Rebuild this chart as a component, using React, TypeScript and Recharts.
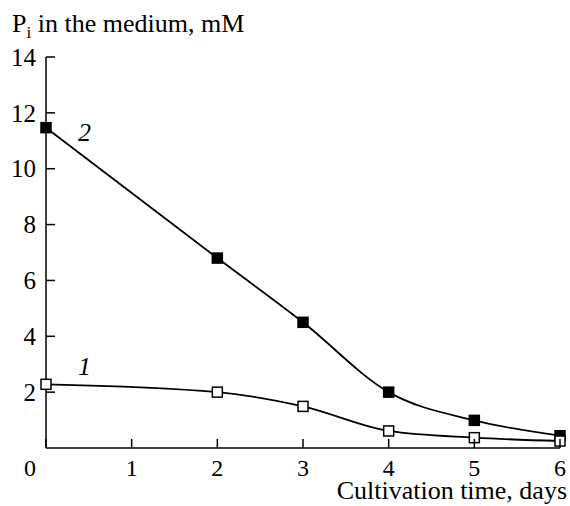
import React from "react";
import { LineChart, Line, XAxis, YAxis } from "recharts";

// days of cultivation
const days = [0, 2, 3, 4, 5, 6];
// curve 1 (open squares) and curve 2 (filled squares), mM
const curve1 = [2.28, 2.0, 1.49, 0.61, 0.37, 0.25];
const curve2 = [11.47, 6.8, 4.5, 2.0, 0.99, 0.44];

const xTicks = [0, 1, 2, 3, 4, 5, 6];
const yTicks = [2, 4, 6, 8, 10, 12, 14];

const FONT = "'Liberation Serif', 'Times New Roman', serif";

const data = days.map((d, i) => ({ day: d, c1: curve1[i], c2: curve2[i] }));

const XTick = ({ x, y, payload }: any) => {
  const shift = payload.value === 0 ? -16 : 0;
  return (
    <g>
      <line x1={x} y1={y} x2={x} y2={y - 9} stroke="#000" strokeWidth={1.5} />
      <text x={x + shift} y={y + 28} textAnchor="middle" fontSize={24} fontFamily={FONT} fill="#000">
        {payload.value}
      </text>
    </g>
  );
};

const YTick = ({ x, y, payload }: any) => (
  <g>
    <line x1={x} y1={y} x2={x + 9} y2={y} stroke="#000" strokeWidth={1.5} />
    <text x={x - 10} y={y} dy="0.35em" textAnchor="end" fontSize={25} fontFamily={FONT} fill="#000">
      {payload.value}
    </text>
  </g>
);

const squareDot = (fill: string) => (props: any) => {
  const { cx, cy, index } = props;
  return (
    <rect
      key={`sq-${fill}-${index}`}
      x={cx - 5}
      y={cy - 5}
      width={10}
      height={10}
      fill={fill}
      stroke="#000"
      strokeWidth={1.5}
    />
  );
};

const textStyle: React.CSSProperties = {
  position: "absolute",
  fontFamily: FONT,
  fontSize: 26,
  lineHeight: "20px",
  whiteSpace: "nowrap",
  color: "#000",
};

const App: React.FC = () => {
  return (
    <div style={{ position: "absolute", left: 0, top: 0, width: 570, height: 506, background: "#fff" }}>
      <LineChart width={570} height={506} data={data} margin={{ top: 57, right: 10, left: 0, bottom: 28 }}>
        <XAxis
          dataKey="day"
          type="number"
          domain={[0, 6]}
          ticks={xTicks}
          height={30}
          tickSize={0}
          tickMargin={0}
          tick={<XTick />}
          axisLine={{ stroke: "#000", strokeWidth: 1.5 }}
          tickLine={false}
        />
        <YAxis
          type="number"
          domain={[0, 14]}
          ticks={yTicks}
          width={46}
          tickSize={0}
          tickMargin={0}
          tick={<YTick />}
          axisLine={{ stroke: "#000", strokeWidth: 1.5 }}
          tickLine={false}
        />
        <Line
          type="monotone"
          dataKey="c2"
          stroke="#000"
          strokeWidth={1.8}
          dot={squareDot("#000")}
          isAnimationActive={false}
        />
        <Line
          type="monotone"
          dataKey="c1"
          stroke="#000"
          strokeWidth={1.8}
          dot={squareDot("#fff")}
          isAnimationActive={false}
        />
      </LineChart>
      <div style={{ ...textStyle, left: 12, top: 14 }}>
        P<span style={{ fontSize: 17, position: "relative", top: 6 }}>i</span> in the medium, mM
      </div>
      <div style={{ ...textStyle, right: 3, top: 481 }}>Cultivation time, days</div>
      <div style={{ ...textStyle, left: 78, top: 123, fontStyle: "italic" }}>2</div>
      <div style={{ ...textStyle, left: 78, top: 357, fontStyle: "italic" }}>1</div>
    </div>
  );
};

export default App;
